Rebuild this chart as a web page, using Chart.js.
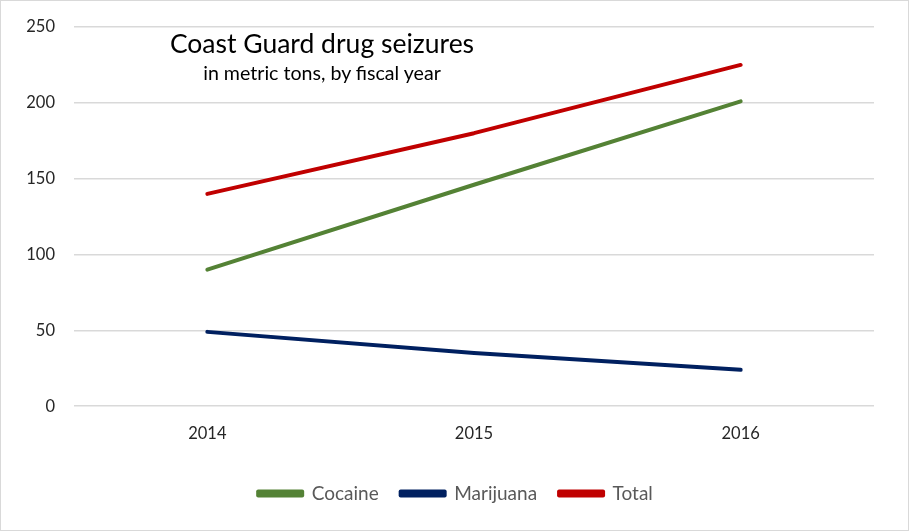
<!DOCTYPE html>
<html>
<head>
<meta charset="utf-8">
<script src="https://cdn.jsdelivr.net/npm/chart.js@4/dist/chart.umd.min.js"></script>
<style>
  body { margin: 0; background: #fff; }
  #wrap { position: relative; width: 909px; height: 531px; box-sizing: border-box; border: 1px solid #d9d9d9; background: #fff; }
  #seizures { display: block; }
  .ttl { position: absolute; left: 321px; transform: translateX(-50%); white-space: nowrap; font-family: Lato, sans-serif; color: #000; }
  #t1 { top: 26px; font-size: 26.5px; }
  #t2 { top: 60px; font-size: 19.6px; }
</style>
</head>
<body>
<div id="wrap">
  <canvas id="seizures" width="907" height="529"></canvas>
  <div class="ttl" id="t1">Coast Guard drug seizures</div>
  <div class="ttl" id="t2">in metric tons, by fiscal year</div>
</div>
<script>
// values (metric tons)
const years = ['2014', '2015', '2016'];
const cocaine = [90, 146, 201];
const marijuana = [49, 35, 24];
const total = [140, 180, 225];

// the legend in the reference is centred a bit right of the canvas centre
const legendShift = {
  id: 'legendShift',
  afterLayout(chart) {
    if (chart.legend) chart.legend.left += 36;
  }
};

document.addEventListener('DOMContentLoaded', function () {
  const ctx = document.getElementById('seizures');
  new Chart(ctx, {
    type: 'line',
    data: {
      labels: years,
      datasets: [
        { label: 'Cocaine', data: cocaine, borderColor: '#548235', backgroundColor: '#548235' },
        { label: 'Marijuana', data: marijuana, borderColor: '#002060', backgroundColor: '#002060' },
        { label: 'Total', data: total, borderColor: '#c00000', backgroundColor: '#c00000' }
      ]
    },
    options: {
      responsive: false,
      animation: false,
      layout: { padding: { top: 26, right: 34, left: 0, bottom: 17 } },
      elements: {
        line: { borderWidth: 4, tension: 0, borderCapStyle: 'round', borderJoinStyle: 'round' },
        point: { radius: 0, hoverRadius: 0 }
      },
      plugins: {
        legend: {
          position: 'bottom',
          labels: {
            boxWidth: 44,
            boxHeight: 4,
            padding: 22,
            color: '#595959',
            font: { family: 'Lato', size: 19 }
          }
        },
        title: { display: false },
        tooltip: { enabled: false }
      },
      scales: {
        y: {
          min: 0,
          max: 250,
          ticks: { stepSize: 50, padding: 19, color: '#262626', font: { family: 'Lato', size: 16.5 } },
          grid: { color: '#d9d9d9', lineWidth: 1.5, drawTicks: false },
          border: { display: false },
          afterFit: function (scale) {
            scale.width = 73;
            scale.paddingTop = 0;
            scale.paddingBottom = 0;
          }
        },
        x: {
          offset: true,
          ticks: { padding: 18, color: '#262626', font: { family: 'Lato', size: 16.5 } },
          grid: { display: false, drawTicks: false, offset: true },
          border: { display: false }
        }
      }
    },
    plugins: [legendShift]
  });
});
</script>
</body>
</html>
